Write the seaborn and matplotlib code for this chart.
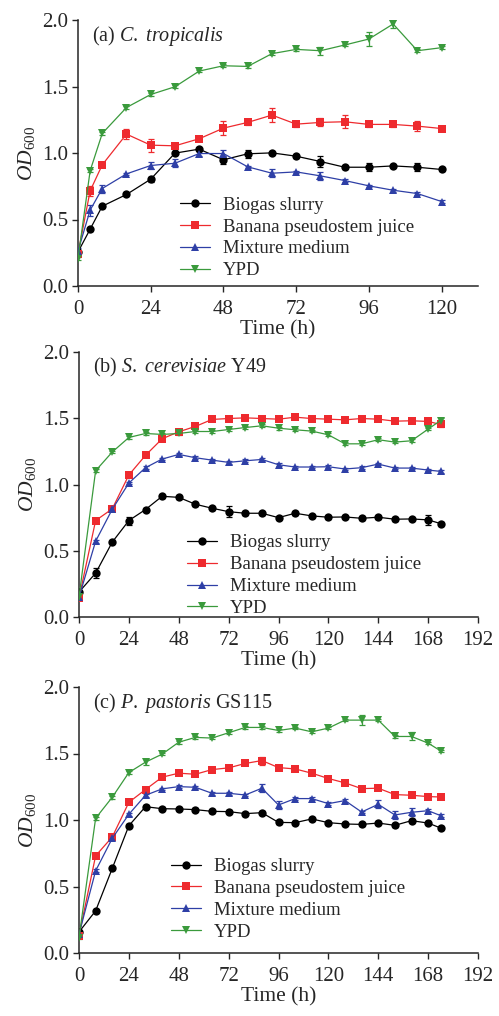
import numpy as np
import pandas as pd
import seaborn as sns
import matplotlib
matplotlib.use("Agg")
import matplotlib.pyplot as plt

# --- datos ---
media = ["Biogas slurry", "Banana pseudostem juice", "Mixture medium", "YPD"]

time_a = [0, 4, 8, 16, 24, 32, 40, 48, 56, 64, 72, 80, 88, 96, 104, 112, 120]
bio_a = [0.256, 0.427, 0.600, 0.688, 0.803, 0.999, 1.029, 0.949, 0.994, 1.001, 0.976, 0.936, 0.893, 0.893, 0.903, 0.893, 0.876]
ban_a = [0.243, 0.715, 0.911, 1.142, 1.059, 1.054, 1.107, 1.187, 1.230, 1.285, 1.217, 1.230, 1.235, 1.215, 1.215, 1.202, 1.184]
mix_a = [0.263, 0.570, 0.733, 0.843, 0.906, 0.923, 0.996, 0.996, 0.896, 0.848, 0.858, 0.828, 0.793, 0.753, 0.720, 0.695, 0.635]
ypd_a = [0.206, 0.866, 1.147, 1.342, 1.440, 1.498, 1.616, 1.656, 1.651, 1.747, 1.779, 1.769, 1.812, 1.857, 1.970, 1.769, 1.792]
bio_a_err = [0.01, 0.01, 0.01, 0.01, 0.02, 0.01, 0.01, 0.03, 0.03, 0.01, 0.01, 0.04, 0.01, 0.03, 0.01, 0.03, 0.01]
ban_a_err = [0.02, 0.04, 0.02, 0.04, 0.05, 0.02, 0.02, 0.05, 0.02, 0.05, 0.02, 0.03, 0.05, 0.02, 0.02, 0.04, 0.02]
mix_a_err = [0.02, 0.04, 0.03, 0.01, 0.03, 0.03, 0.02, 0.03, 0.01, 0.03, 0.01, 0.03, 0.01, 0.01, 0.01, 0.01, 0.01]
ypd_a_err = [0.01, 0.01, 0.01, 0.01, 0.01, 0.01, 0.01, 0.01, 0.01, 0.01, 0.01, 0.03, 0.01, 0.05, 0.03, 0.01, 0.01]

time_bc = [0, 8, 16, 24, 32, 40, 48, 56, 64, 72, 80, 88, 96, 104, 112, 120, 128, 136, 144, 152, 160, 168, 174]
bio_b = [0.188, 0.331, 0.565, 0.728, 0.811, 0.911, 0.903, 0.851, 0.821, 0.795, 0.783, 0.783, 0.750, 0.783, 0.763, 0.753, 0.755, 0.745, 0.753, 0.738, 0.740, 0.733, 0.705]
ban_b = [0.143, 0.728, 0.816, 1.072, 1.220, 1.345, 1.398, 1.438, 1.491, 1.498, 1.503, 1.498, 1.493, 1.508, 1.498, 1.493, 1.488, 1.498, 1.493, 1.478, 1.481, 1.476, 1.453]
mix_b = [0.148, 0.572, 0.813, 1.011, 1.127, 1.192, 1.227, 1.202, 1.184, 1.167, 1.179, 1.189, 1.149, 1.132, 1.132, 1.134, 1.117, 1.127, 1.154, 1.124, 1.124, 1.109, 1.099]
ypd_b = [0.151, 1.104, 1.245, 1.355, 1.385, 1.378, 1.385, 1.400, 1.400, 1.415, 1.430, 1.443, 1.425, 1.413, 1.403, 1.375, 1.307, 1.307, 1.338, 1.320, 1.330, 1.418, 1.483]
bio_b_err = [0.01, 0.04, 0.01, 0.03, 0.01, 0.01, 0.01, 0.01, 0.01, 0.04, 0.01, 0.01, 0.01, 0.01, 0.01, 0.01, 0.01, 0.01, 0.01, 0.01, 0.01, 0.04, 0.01]
ban_b_err = [0.01, 0.01, 0.01, 0.01, 0.01, 0.01, 0.01, 0.01, 0.01, 0.01, 0.01, 0.01, 0.01, 0.01, 0.01, 0.01, 0.01, 0.01, 0.01, 0.01, 0.01, 0.01, 0.02]
mix_b_err = [0.01, 0.01, 0.01, 0.01, 0.01, 0.01, 0.01, 0.01, 0.01, 0.01, 0.01, 0.01, 0.01, 0.01, 0.01, 0.01, 0.01, 0.01, 0.01, 0.01, 0.01, 0.01, 0.01]
ypd_b_err = [0.01, 0.01, 0.01, 0.01, 0.01, 0.01, 0.01, 0.01, 0.01, 0.01, 0.01, 0.01, 0.01, 0.01, 0.01, 0.01, 0.01, 0.01, 0.01, 0.01, 0.01, 0.01, 0.02]

bio_c = [0.158, 0.317, 0.636, 0.957, 1.100, 1.085, 1.083, 1.078, 1.065, 1.063, 1.048, 1.055, 0.982, 0.980, 1.008, 0.980, 0.970, 0.967, 0.977, 0.960, 0.995, 0.977, 0.940]
ban_c = [0.131, 0.731, 0.872, 1.133, 1.229, 1.322, 1.352, 1.344, 1.379, 1.392, 1.425, 1.447, 1.394, 1.384, 1.352, 1.312, 1.279, 1.236, 1.239, 1.191, 1.186, 1.176, 1.173]
mix_c = [0.141, 0.618, 0.862, 1.043, 1.186, 1.234, 1.251, 1.246, 1.201, 1.201, 1.188, 1.239, 1.113, 1.161, 1.161, 1.123, 1.146, 1.060, 1.118, 1.038, 1.058, 1.070, 1.033]
ypd_c = [0.116, 1.013, 1.171, 1.357, 1.435, 1.495, 1.585, 1.621, 1.616, 1.656, 1.696, 1.696, 1.673, 1.691, 1.663, 1.691, 1.751, 1.751, 1.751, 1.628, 1.628, 1.578, 1.520]
bio_c_err = [0.01, 0.01, 0.01, 0.01, 0.01, 0.01, 0.01, 0.01, 0.01, 0.01, 0.01, 0.01, 0.01, 0.01, 0.01, 0.01, 0.01, 0.01, 0.01, 0.01, 0.01, 0.01, 0.01]
ban_c_err = [0.02, 0.01, 0.01, 0.01, 0.01, 0.01, 0.01, 0.01, 0.01, 0.01, 0.01, 0.03, 0.01, 0.01, 0.01, 0.01, 0.01, 0.01, 0.01, 0.01, 0.01, 0.01, 0.01]
mix_c_err = [0.01, 0.01, 0.01, 0.01, 0.01, 0.01, 0.01, 0.01, 0.01, 0.01, 0.01, 0.03, 0.03, 0.01, 0.01, 0.01, 0.01, 0.01, 0.03, 0.03, 0.03, 0.01, 0.01]
ypd_c_err = [0.01, 0.01, 0.01, 0.01, 0.02, 0.01, 0.01, 0.01, 0.01, 0.01, 0.01, 0.01, 0.01, 0.01, 0.01, 0.01, 0.01, 0.04, 0.01, 0.01, 0.03, 0.01, 0.01]

colores = ["#000000", "#EE2A2E", "#2E3FA6", "#3A9A3C"]
marcadores = ["o", "s", "^", "v"]

sns.set_style("ticks")
plt.rcParams["font.family"] = ["Liberation Serif", "DejaVu Serif"]
plt.rcParams["mathtext.fontset"] = "custom"
plt.rcParams["mathtext.rm"] = "Liberation Serif"
plt.rcParams["mathtext.it"] = "Liberation Serif:italic"
plt.rcParams["mathtext.bf"] = "Liberation Serif:bold"

fig = plt.figure(figsize=(4.99, 10.16), dpi=100)
W, H = 499.0, 1016.0


def ejes(x0, top, x1, bottom):
    return fig.add_axes([x0 / W, 1 - bottom / H, (x1 - x0) / W, (bottom - top) / H])


paneles = [
    dict(ax=ejes(78, 20, 478, 286), t=time_a, ys=[bio_a, ban_a, mix_a, ypd_a],
         es=[bio_a_err, ban_a_err, mix_a_err, ypd_a_err], xmax=132, xt=np.arange(0, 121, 24),
         titulo="(a) $C.\\ tropicalis$", leg=(0.255, 0.336)),
    dict(ax=ejes(79, 352, 478, 617), t=time_bc, ys=[bio_b, ban_b, mix_b, ypd_b],
         es=[bio_b_err, ban_b_err, mix_b_err, ypd_b_err], xmax=192, xt=np.arange(0, 193, 24),
         titulo="(b) $S.\\ cerevisiae$ Y49", leg=(0.27, 0.312)),
    dict(ax=ejes(79, 687, 478, 953), t=time_bc, ys=[bio_c, ban_c, mix_c, ypd_c],
         es=[bio_c_err, ban_c_err, mix_c_err, ypd_c_err], xmax=192, xt=np.arange(0, 193, 24),
         titulo="(c) $P.\\ pastoris$ GS115", leg=(0.23, 0.357)),
]

for p in paneles:
    ax = p["ax"]
    filas = []
    for nombre, y in zip(media, p["ys"]):
        for t, v in zip(p["t"], y):
            filas.append({"Time": t, "OD": v, "Medio": nombre})
    df = pd.DataFrame(filas)

    for nombre, y, e, c in zip(media, p["ys"], p["es"], colores):
        ax.errorbar(p["t"], y, yerr=e, fmt="none", ecolor=c, elinewidth=0.9,
                    capsize=2.5, capthick=0.9, zorder=2)

    sns.lineplot(data=df, x="Time", y="OD", hue="Medio", style="Medio",
                 hue_order=media, style_order=media, palette=colores,
                 markers=marcadores, dashes=False, linewidth=0.9,
                 markersize=6, markeredgewidth=0, ax=ax, zorder=3)

    ax.set_xlim(0, p["xmax"])
    ax.set_ylim(0, 2.0)
    ax.set_xticks(p["xt"])
    ax.set_yticks([0.0, 0.5, 1.0, 1.5, 2.0])
    ax.set_yticklabels(["0.0", "0.5", "1.0", "1.5", "2.0"])
    ax.tick_params(labelsize=15, length=4, width=1, direction="out")
    ax.tick_params(axis="x", pad=6)
    ax.tick_params(axis="y", pad=3)
    for s in ["left", "bottom"]:
        ax.spines[s].set_linewidth(1.1)
    sns.despine(ax=ax)
    ax.set_xlabel("Time (h)", fontsize=15.5, labelpad=1)
    ax.set_ylabel("$\\mathit{OD}_{\\mathrm{600}}$", fontsize=15.5, labelpad=4)
    ax.text(0.035, 0.985, p["titulo"], transform=ax.transAxes, fontsize=14.5,
            va="top", ha="left")

    ax.legend(loc="upper left", bbox_to_anchor=p["leg"], frameon=False,
              fontsize=13.5, handlelength=1.6, handletextpad=0.7,
              labelspacing=0.25, borderpad=0, borderaxespad=0)

fig.savefig("out.png", dpi=100)
